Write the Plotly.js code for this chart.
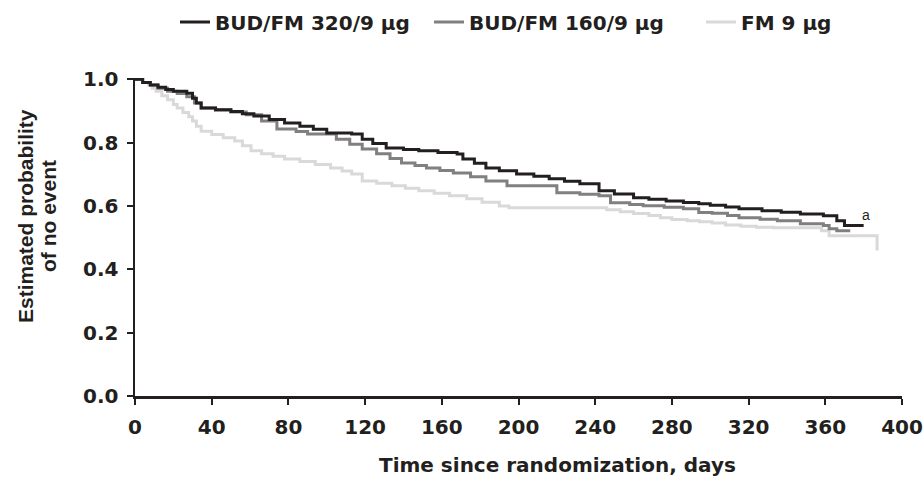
<!DOCTYPE html>
<html>
<head>
<meta charset="utf-8">
<script src="https://cdn.plot.ly/plotly-3.0.1.min.js"></script>
<style>
  html, body { margin: 0; padding: 0; background: #ffffff; }
  #chart { width: 924px; height: 484px; }
</style>
</head>
<body>
<div id="chart"></div>
<script>
// Series names
const seriesNames = ["BUD/FM 320/9 µg", "BUD/FM 160/9 µg", "FM 9 µg"];

// BUD/FM 320/9 µg (days, probability)
const days320 = [0,4,8,12,16,20,27,30,32,34.5,42,50,56,62,70,78,86,93,100,113,118.5,124,131,140,148,158,168,171,177,183,190,199,208,216,224,232,242,250,260,268,277,286,294,300,308,315,327,337,347,359,366,370,380];
const prob320 = [1.0,0.99,0.982,0.975,0.968,0.962,0.956,0.94,0.925,0.909,0.904,0.898,0.891,0.884,0.873,0.862,0.852,0.842,0.83,0.827,0.811,0.797,0.783,0.778,0.774,0.769,0.764,0.748,0.735,0.72,0.711,0.701,0.694,0.686,0.678,0.67,0.648,0.638,0.626,0.621,0.616,0.611,0.607,0.602,0.597,0.591,0.585,0.58,0.575,0.569,0.553,0.538,0.538];

// BUD/FM 160/9 µg
const days160 = [0,4,8,12,17,22,27,31,34.5,42,50,58,66,74,84,90,105,112,118.5,126,133,139,146,152,159,166,175,183,194,220,232,242,248,258,265,276,286,294,301,309,315,326,335,347,359,362,366,373];
const prob160 = [1.0,0.99,0.982,0.972,0.962,0.955,0.945,0.925,0.909,0.903,0.897,0.888,0.868,0.843,0.835,0.827,0.811,0.795,0.78,0.765,0.75,0.736,0.728,0.72,0.712,0.704,0.692,0.679,0.664,0.642,0.637,0.632,0.61,0.605,0.601,0.596,0.591,0.579,0.577,0.57,0.563,0.558,0.553,0.544,0.538,0.528,0.522,0.522];

// FM 9 µg
const daysFM = [0,4,7,9,11,14,17,20,22,25,28,30,32,34.5,40,46,52,56,60.5,66,72,78,86,94,102,108,113,118.5,126,134,141,148,156,164,173,181,190,195,246,253,260,268,274,280,288,294.5,301,308,316,324,333,358,362,387];
const probFM = [1.0,0.99,0.982,0.972,0.962,0.948,0.935,0.92,0.909,0.895,0.882,0.868,0.852,0.836,0.826,0.815,0.805,0.79,0.774,0.765,0.757,0.748,0.74,0.731,0.72,0.71,0.701,0.679,0.672,0.664,0.656,0.648,0.64,0.632,0.623,0.612,0.60,0.594,0.588,0.582,0.576,0.57,0.563,0.557,0.553,0.55,0.546,0.54,0.536,0.533,0.531,0.522,0.506,0.459];

// Axis ticks
const xTicks = [0,40,80,120,160,200,240,280,320,360,400];
const yTicks = [0,0.2,0.4,0.6,0.8,1.0];

const WIDE = "'DejaVu Sans', Verdana, sans-serif";
const NARROW = "'Liberation Sans', Arial, sans-serif";
const INK = "#231f20";

const traces = [
  { x: daysFM, y: probFM, name: seriesNames[2], type: "scatter", mode: "lines",
    legend: "legend3",
    line: { shape: "hv", color: "#d9d9d9", width: 3 } },
  { x: days160, y: prob160, name: seriesNames[1], type: "scatter", mode: "lines",
    legend: "legend2",
    line: { shape: "hv", color: "#808083", width: 3 } },
  { x: days320, y: prob320, name: seriesNames[0], type: "scatter", mode: "lines",
    legend: "legend",
    line: { shape: "hv", color: INK, width: 3 } }
];

function legendAt(px) {
  return {
    orientation: "h", x: (px - 135) / 767, xanchor: "left", y: 1.176, yanchor: "middle",
    font: { family: WIDE, size: 20, color: INK, weight: "bold" },
    bgcolor: "rgba(0,0,0,0)"
  };
}

const layout = {
  width: 924, height: 484,
  margin: { l: 135, r: 22, t: 78, b: 88, autoexpand: false },
  paper_bgcolor: "#ffffff", plot_bgcolor: "#ffffff",
  font: { family: WIDE, size: 20, color: INK, weight: "bold" },
  showlegend: true,
  legend: legendAt(175),
  legend2: legendAt(429),
  legend3: legendAt(701),
  xaxis: {
    range: [0, 400], tickvals: xTicks, ticktext: xTicks.map(String),
    showline: true, linecolor: INK, linewidth: 2.5, mirror: false,
    ticks: "outside", ticklen: 6, tickwidth: 2, tickcolor: INK,
    ticklabelstandoff: 5,
    showgrid: false, zeroline: false,
    tickfont: { family: WIDE, size: 20, color: INK, weight: "bold" }
  },
  yaxis: {
    range: [0, 1.004], tickvals: yTicks, ticktext: yTicks.map(v => v.toFixed(1)),
    showline: true, linecolor: INK, linewidth: 2.5,
    ticks: "outside", ticklen: 6, tickwidth: 2, tickcolor: INK,
    ticklabelstandoff: 4,
    showgrid: false, zeroline: false,
    tickfont: { family: WIDE, size: 20, color: INK, weight: "bold" }
  },
  annotations: [
    { text: "Time since randomization, days", xref: "paper", yref: "paper",
      x: 0.551, y: -0.217, xanchor: "center", yanchor: "middle", showarrow: false,
      font: { family: WIDE, size: 20, color: INK, weight: "bold" } },
    { text: "Estimated probability", xref: "paper", yref: "paper",
      x: (25 - 135) / 767, y: 0.566, xanchor: "center", yanchor: "middle", showarrow: false,
      textangle: -90,
      font: { family: NARROW, size: 21, color: INK, weight: "bold" } },
    { text: "of no event", xref: "paper", yref: "paper",
      x: (48 - 135) / 767, y: 0.566, xanchor: "center", yanchor: "middle", showarrow: false,
      textangle: -90,
      font: { family: NARROW, size: 21, color: INK, weight: "bold" } },
    { text: "a", xref: "x", yref: "y", x: 381, y: 0.572, showarrow: false,
      xanchor: "center", yanchor: "middle",
      font: { family: NARROW, size: 14, color: INK, weight: "normal" } }
  ]
};

Plotly.newPlot("chart", traces, layout, { displayModeBar: false, staticPlot: true });
</script>
</body>
</html>
